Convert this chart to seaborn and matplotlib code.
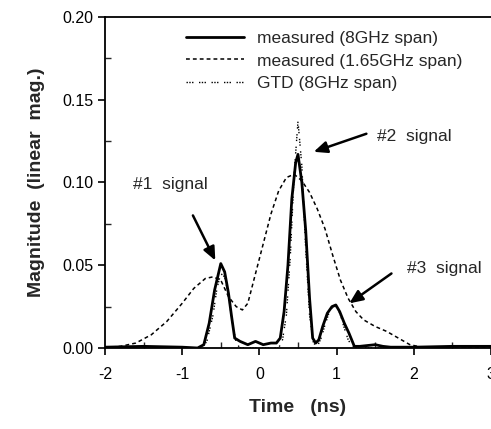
import numpy as np
import pandas as pd
import seaborn as sns
import matplotlib
matplotlib.use("Agg")
import matplotlib.pyplot as plt
from matplotlib.ticker import MultipleLocator

# measured, 8GHz span (solid)
t_meas8 = [-2.0, -1.5, -1.0, -0.8, -0.72, -0.65, -0.58, -0.5, -0.45, -0.4, -0.36, -0.32,
           -0.25, -0.15, -0.05, 0.05, 0.15, 0.22, 0.27, 0.32, 0.37, 0.42, 0.47, 0.5,
           0.55, 0.6, 0.65, 0.69, 0.73, 0.77, 0.82, 0.88, 0.94, 0.99, 1.04, 1.1, 1.16,
           1.23, 1.3, 1.4, 1.5, 1.6, 1.7, 2.0, 2.5, 3.0]
mag_meas8 = [0.0005, 0.001, 0.0005, 0.0, 0.002, 0.015, 0.035, 0.051, 0.046, 0.033, 0.019, 0.006,
             0.004, 0.002, 0.004, 0.002, 0.003, 0.003, 0.006, 0.022, 0.050, 0.090, 0.112, 0.117,
             0.100, 0.071, 0.030, 0.006, 0.003, 0.005, 0.013, 0.021, 0.025, 0.026, 0.022, 0.015, 0.009,
             0.001, 0.001, 0.0015, 0.002, 0.001, 0.0005, 0.0005, 0.001, 0.001]

# measured, 1.65GHz span (dotted)
t_meas165 = [-2.0, -1.8, -1.6, -1.4, -1.2, -1.0, -0.85, -0.7, -0.6, -0.5, -0.4, -0.3,
             -0.22, -0.15, -0.05, 0.05, 0.15, 0.25, 0.35, 0.45, 0.55, 0.65, 0.75, 0.85,
             0.95, 1.05, 1.15, 1.25, 1.35, 1.5, 1.65, 1.8, 1.95, 2.1, 2.5, 3.0]
mag_meas165 = [0.0003, 0.001, 0.003, 0.008, 0.016, 0.027, 0.036, 0.042, 0.043, 0.041, 0.031, 0.025,
               0.023, 0.027, 0.045, 0.063, 0.081, 0.095, 0.103, 0.105, 0.101, 0.094, 0.084, 0.072,
               0.056, 0.041, 0.030, 0.022, 0.017, 0.013, 0.010, 0.006, 0.002, 0.0005, 0.0, 0.0]

# GTD, 8GHz span
t_gtd = [-2.0, -1.0, -0.75, -0.68, -0.6, -0.55, -0.5, -0.45, -0.4, -0.35, -0.3, -0.25,
         0.0, 0.25, 0.3, 0.35, 0.4, 0.45, 0.5, 0.55, 0.6, 0.65, 0.7, 0.75, 0.8, 0.85,
         0.9, 0.95, 1.0, 1.05, 1.1, 1.15, 1.2, 1.3, 2.0, 3.0]
mag_gtd = [0.0, 0.0, 0.0, 0.004, 0.02, 0.036, 0.045, 0.043, 0.032, 0.015, 0.003, 0.0,
           0.0, 0.0, 0.005, 0.02, 0.055, 0.105, 0.137, 0.11, 0.06, 0.02, 0.003, 0.001, 0.006, 0.014,
           0.021, 0.025, 0.025, 0.02, 0.012, 0.005, 0.001, 0.0, 0.0, 0.0]

labels = ["measured (8GHz span)", "measured (1.65GHz span)", "GTD (8GHz span)"]

sns.set_style("ticks")
plt.rcParams['font.family'] = ['Liberation Sans', 'DejaVu Sans']
plt.rcParams['axes.unicode_minus'] = False

fig = plt.figure(figsize=(4.91, 4.29), dpi=100)
ax = fig.add_axes([0.2138, 0.1888, 0.7862, 0.7716])

sns.lineplot(x=t_meas8, y=mag_meas8, ax=ax, color='black', lw=2.0, label=labels[0])
sns.lineplot(x=t_meas165, y=mag_meas165, ax=ax, color='black', lw=1.1,
             linestyle=(0, (2.5, 2)), label=labels[1])
sns.lineplot(x=t_gtd, y=mag_gtd, ax=ax, color='black', lw=1.0,
             linestyle=(0, (1, 1, 1, 1, 1, 4)), label=labels[2])

ax.set_xlim(-2, 3)
ax.set_ylim(0, 0.2)
ax.xaxis.set_major_locator(MultipleLocator(1))
ax.xaxis.set_minor_locator(MultipleLocator(0.5))
ax.yaxis.set_major_locator(MultipleLocator(0.05))
ax.yaxis.set_minor_locator(MultipleLocator(0.025))
ax.yaxis.set_major_formatter(matplotlib.ticker.FormatStrFormatter('%.2f'))
ax.tick_params(which='major', direction='out', length=5, width=1.2, labelsize=11.5, colors='black')
ax.tick_params(axis='x', which='major', pad=9)
ax.tick_params(which='minor', direction='in', length=4, width=1.0)
ax.spines['right'].set_visible(False)
for s in ['left', 'bottom', 'top']:
    ax.spines[s].set_linewidth(1.3)
    ax.spines[s].set_color('black')

ax.set_xlabel("Time   (ns)", fontsize=14, fontweight='bold', labelpad=12)
ax.set_ylabel("Magnitude  (linear  mag.)", fontsize=14, fontweight='bold', labelpad=12)

ax.legend(loc='upper left', bbox_to_anchor=(0.17, 1.005), frameon=False, fontsize=12.5,
          handlelength=3.3, handletextpad=0.8, labelspacing=0.42)

arrow = dict(arrowstyle='-|>,head_length=0.8,head_width=0.35', color='black', lw=1.8)
ax.annotate("#1  signal", xy=(-0.55, 0.0514), xytext=(-1.15, 0.0985), fontsize=12.5,
            ha='center', va='center', arrowprops=None)
ax.annotate("", xy=(-0.555, 0.0514), xytext=(-0.877, 0.0816), arrowprops=arrow)
ax.annotate("#2  signal", xy=(0.67, 0.118), xytext=(2.01, 0.1275), fontsize=12.5,
            ha='center', va='center')
ax.annotate("", xy=(0.67, 0.118), xytext=(1.42, 0.130), arrowprops=arrow)
ax.annotate("#3  signal", xy=(1.135, 0.026), xytext=(2.39, 0.0483), fontsize=12.5,
            ha='center', va='center')
ax.annotate("", xy=(1.135, 0.026), xytext=(1.74, 0.046), arrowprops=arrow)

fig.savefig("out.png", dpi=100)
